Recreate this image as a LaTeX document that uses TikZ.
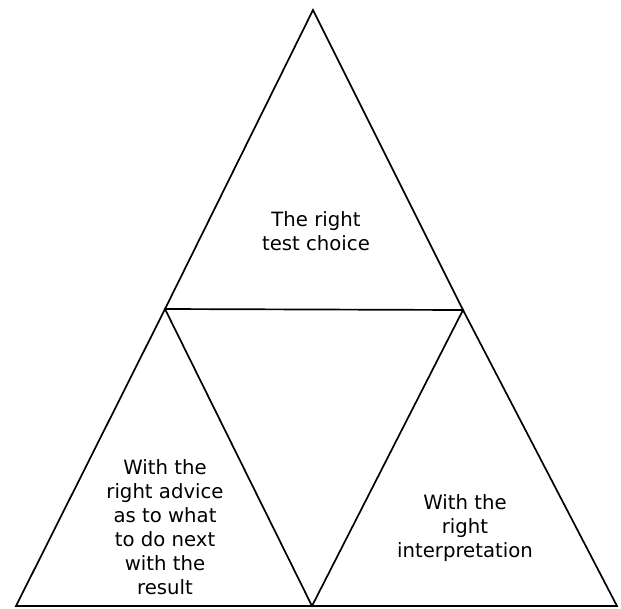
\documentclass[tikz,border=0pt]{standalone}
\usepackage{fontspec}
\setmainfont{DejaVu Sans}
\usepackage{tikz}
\usetikzlibrary{positioning}

\begin{document}
\begin{tikzpicture}[
  x=0.025cm, y=-0.025cm,
  tri/.style={draw, line width=1.2pt, line join=miter},
  lbl/.style={align=center, font=\fontsize{14}{17}\selectfont, inner sep=0pt},
]
\useasboundingbox (0,0) rectangle (621,608);
% corners of the three triangles
\coordinate (apex) at (313,10);
\coordinate (midL) at (165,309);
\coordinate (midR) at (463,310);
\coordinate (botL) at (16,606);
\coordinate (botM) at (312,606);
\coordinate (botR) at (617,606);
\draw[tri] (apex) -- (midL) -- (midR) -- cycle;
\draw[tri] (midL) -- (botL) -- (botM) -- cycle;
\draw[tri] (midR) -- (botM) -- (botR) -- cycle;
% texts
\node[lbl] (choice) at (316,231) {The right\\test choice};
\node[lbl] (advice) at (165,527) {With the\\right advice\\as to what\\to do next\\with the\\result};
\node[lbl] (interp) at (465,528) {With the\\right\\interpretation};
\end{tikzpicture}
\end{document}
